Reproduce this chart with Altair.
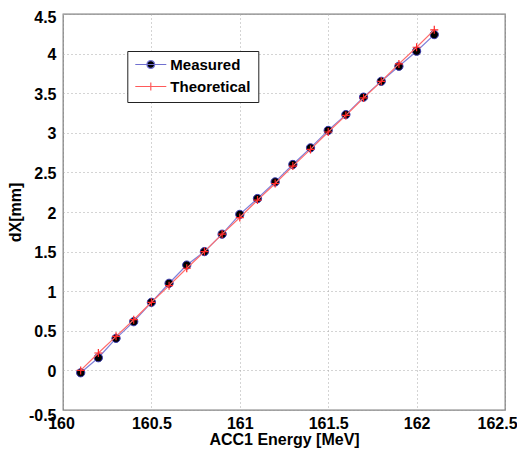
import altair as alt
import pandas as pd

energy = [160.1, 160.2, 160.3, 160.4, 160.5, 160.6, 160.7, 160.8, 160.9, 161.0,
          161.1, 161.2, 161.3, 161.4, 161.5, 161.6, 161.7, 161.8, 161.9, 162.0, 162.1]
measured = [-0.03, 0.16, 0.405, 0.615, 0.86, 1.10, 1.33, 1.50, 1.72, 1.97,
            2.17, 2.38, 2.60, 2.81, 3.03, 3.23, 3.45, 3.65, 3.84, 4.03, 4.24]
theoretical = [0.0, 0.22, 0.43, 0.64, 0.86, 1.07, 1.29, 1.50, 1.72, 1.93,
               2.15, 2.36, 2.58, 2.79, 3.01, 3.22, 3.44, 3.65, 3.87, 4.08, 4.30]
series_names = ["Measured", "Theoretical"]
x_ticks = [160, 160.5, 161, 161.5, 162, 162.5]
y_ticks = [-0.5, 0, 0.5, 1, 1.5, 2, 2.5, 3, 3.5, 4, 4.5]

df = pd.DataFrame({
    "energy": energy + energy,
    "dx": measured + theoretical,
    "series": [series_names[0]] * len(energy) + [series_names[1]] * len(energy),
})

FONT = "Liberation Sans"
PLUS = "M-1,0L1,0M0,-1L0,1"
LEG_CIRCLE = "M-1,0L1,0M-0.25,0A0.25,0.25 0 1,1 0.25,0A0.25,0.25 0 1,1 -0.25,0Z"
LEG_PLUS = "M-1,0L1,0M0,-0.26L0,0.26"

base = alt.Chart(df).encode(
    x=alt.X("energy:Q",
            scale=alt.Scale(domain=[160, 162.5], nice=False, zero=False),
            axis=alt.Axis(values=x_ticks, title="ACC1 Energy [MeV]",
                          labelExpr="'' + datum.value", labelPadding=5, labelFlush=False,
                          labelOffset={"expr": "datum.value == 162.5 ? -8 : (datum.value == 160 ? -2 : 0)"},
                          titleBaseline="top", titleY=21)),
    y=alt.Y("dx:Q",
            scale=alt.Scale(domain=[-0.5, 4.5], nice=False, zero=False),
            axis=alt.Axis(values=y_ticks, title="dX[mm]",
                          labelExpr="'' + datum.value", labelPadding=7, labelFlush=False,
                          labelOffset={"expr": "datum.value == -0.5 ? 5 : (datum.value == 4.5 ? 3 : 1)"},
                          titleX=-47.5, titleY=198, titleBaseline="middle")),
)

is_m = "datum.series == 'Measured'"
is_t = "datum.series == 'Theoretical'"

m_line = base.transform_filter(is_m).mark_line(color="#7f7fd8", strokeWidth=1.2)
m_pts = base.transform_filter(is_m).mark_point(
    shape="circle", filled=True, fill="#000000", stroke="#3838b0",
    strokeWidth=1, size=68, opacity=1)
t_line = base.transform_filter(is_t).mark_line(color="#ff6b6b", strokeWidth=1.2)
t_pts = base.transform_filter(is_t).mark_point(
    shape=PLUS, filled=False, color="#ff2626", strokeWidth=1.2, size=64, opacity=1)

legend_def = alt.Legend(
    title=None, orient="none", legendX=64.3, legendY=37,
    symbolSize=961, symbolStrokeWidth=1.2, symbolOpacity=1,
    labelFont=FONT, labelFontSize=15, labelFontWeight="bold", labelColor="black",
    labelOffset=3, padding=7, clipHeight=13, rowPadding=6,
    strokeColor="#222222", fillColor="white", cornerRadius=0,
)

leg = base.transform_filter("false").mark_point(opacity=1).encode(
    shape=alt.Shape("series:N", scale=alt.Scale(domain=series_names, range=[LEG_CIRCLE, LEG_PLUS]),
                    legend=legend_def),
    fill=alt.Fill("series:N", scale=alt.Scale(domain=series_names, range=["#000000", "transparent"]),
                  legend=legend_def),
    stroke=alt.Stroke("series:N", scale=alt.Scale(domain=series_names, range=["#7070d0", "#ff5a5a"]),
                      legend=legend_def),
)

chart = alt.layer(m_line, m_pts, t_line, t_pts, leg).properties(
    width=442, height=396,
    padding={"left": 55, "top": 6, "right": 12, "bottom": 40},
    autosize="none",
).configure_view(
    stroke="#808080", strokeWidth=1.3
).configure_axis(
    domain=False, ticks=False, tickSize=0,
    grid=True, gridColor="#a8a8a8", gridDash=[1, 3], gridWidth=1, gridOpacity=1,
    labelFont=FONT, labelFontSize=16, labelFontWeight="bold", labelColor="black",
    titleFont=FONT, titleFontSize=16, titleFontWeight="bold", titleColor="black",
)

chart.save("out.html", embed_options={"renderer": "svg", "actions": False})
